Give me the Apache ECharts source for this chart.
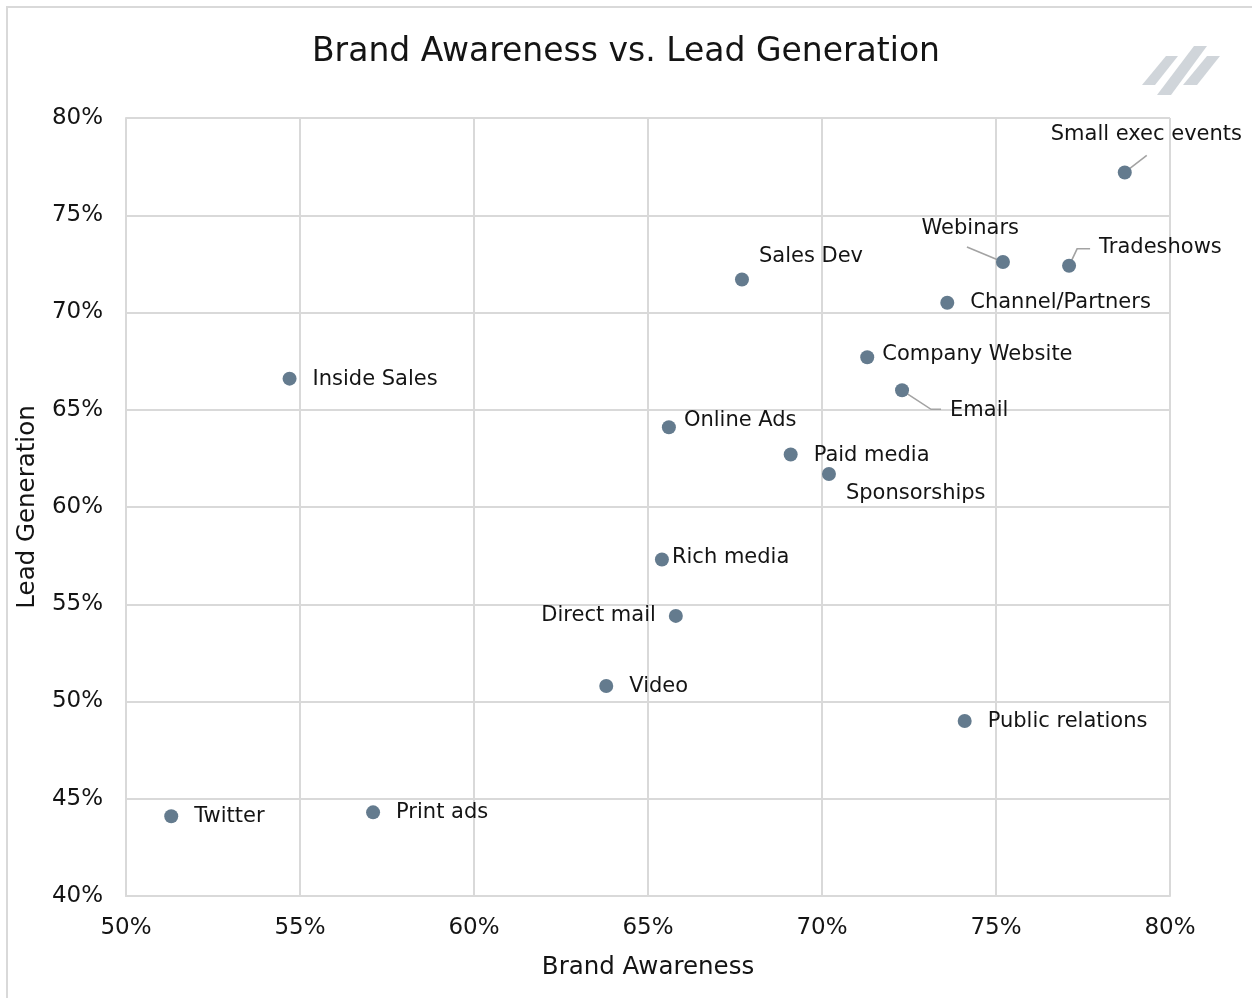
<!DOCTYPE html>
<html>
<head>
<meta charset="utf-8">
<script src="https://cdn.jsdelivr.net/npm/echarts@6/dist/echarts.min.js"></script>
<style>
html,body{margin:0;padding:0;background:#fff;}
#chart{width:1252px;height:998px;}
</style>
</head>
<body>
<div id="chart"></div>
<script>
// ---- data ----
const channels = ["Small exec events","Webinars","Tradeshows","Channel/Partners","Sales Dev","Company Website","Email","Inside Sales","Online Ads","Paid media","Sponsorships","Rich media","Direct mail","Video","Public relations","Twitter","Print ads"];
const brandAwareness = [78.7,75.2,77.1,73.6,67.7,71.3,72.3,54.7,65.6,69.1,70.2,65.4,65.8,63.8,74.1,51.3,57.1];
const leadGeneration = [77.2,72.6,72.4,70.5,71.7,67.7,66.0,66.6,64.1,62.7,61.7,57.3,54.4,50.8,49.0,44.1,44.3];
const xTicks = [50,55,60,65,70,75,80];
const yTicks = [40,45,50,55,60,65,70,75,80];

// ---- label styling (placement per label, not data) ----
const labelStyle = {
  "Small exec events": {offset:[-74,-38], align:"left", leader:[[0,0],[22,-17]]},
  "Webinars": {offset:[16,-33], align:"right", leader:[[-36,-15],[0,0]]},
  "Tradeshows": {offset:[30,-18], align:"left", leader:[[0,0],[8,-17],[21,-17]]},
  "Channel/Partners": {offset:[23,0], align:"left"},
  "Sales Dev": {offset:[17,-23], align:"left"},
  "Company Website": {offset:[15,-3], align:"left"},
  "Email": {offset:[48,20], align:"left", leader:[[0,0],[29,19],[39,19]]},
  "Inside Sales": {offset:[23,1], align:"left"},
  "Online Ads": {offset:[15,-7], align:"left"},
  "Paid media": {offset:[23,1], align:"left"},
  "Sponsorships": {offset:[17,20], align:"left"},
  "Rich media": {offset:[10,-2], align:"left"},
  "Direct mail": {offset:[-20,0], align:"right"},
  "Video": {offset:[23,1], align:"left"},
  "Public relations": {offset:[23,1], align:"left"},
  "Twitter": {offset:[23,0], align:"left"},
  "Print ads": {offset:[23,0], align:"left"}
};

const FONT = "'DejaVu Sans', Inter, sans-serif";
const TEXT = '#141414';
const seriesData = channels.map((n,i)=>{
  const s = labelStyle[n];
  return {
    name:n,
    value:[brandAwareness[i], leadGeneration[i]],
    label:{offset:s.offset, align:s.align}
  };
});

const baseGraphics = [
  {type:'rect', shape:{x:7,y:7,width:1270,height:1010}, style:{fill:'none', stroke:'#d9d9d9', lineWidth:2}, silent:true},
  {type:'polygon', shape:{points:[[1142,85],[1155,85],[1178,56],[1166,56]]}, style:{fill:'#d0d5da'}},
  {type:'polygon', shape:{points:[[1157,95],[1171,95],[1207,46],[1194,46]]}, style:{fill:'#d0d5da'}},
  {type:'polygon', shape:{points:[[1183,85],[1197,85],[1220,56],[1207,56]]}, style:{fill:'#d0d5da'}}
];

const chart = echarts.init(document.getElementById('chart'), null, {renderer:'canvas'});
chart.setOption({
  backgroundColor:'#ffffff',
  animation:false,
  title:{
    text:'Brand Awareness vs. Lead Generation',
    left:'center', top:31,
    textStyle:{fontFamily:FONT, fontSize:33, fontWeight:'normal', color:TEXT}
  },
  grid:{left:126, right:82, top:118, bottom:102, containLabel:false},
  xAxis:{
    type:'value', min:xTicks[0], max:xTicks[xTicks.length-1], interval:5,
    name:'Brand Awareness', nameLocation:'middle', nameGap:59,
    nameTextStyle:{fontFamily:FONT, fontSize:24.5, color:TEXT},
    axisLine:{show:true, lineStyle:{color:'#d9d9d9', width:2}},
    axisTick:{show:false},
    axisLabel:{formatter:'{value}%', margin:21, fontFamily:FONT, fontSize:23, color:TEXT},
    splitLine:{show:true, lineStyle:{color:'#d9d9d9', width:2}}
  },
  yAxis:{
    type:'value', min:yTicks[0], max:yTicks[yTicks.length-1], interval:5,
    name:'Lead Generation', nameLocation:'middle', nameGap:86, nameRotate:90,
    nameTextStyle:{fontFamily:FONT, fontSize:24.5, color:TEXT},
    axisLine:{show:true, lineStyle:{color:'#d9d9d9', width:2}},
    axisTick:{show:false},
    axisLabel:{formatter:'{value}%', margin:23, fontFamily:FONT, fontSize:23, color:TEXT},
    splitLine:{show:true, lineStyle:{color:'#d9d9d9', width:2}}
  },
  series:[{
    type:'scatter',
    symbolSize:14,
    itemStyle:{color:'#647b8e', opacity:1},
    data:seriesData,
    z:3,
    label:{
      show:true, position:'inside', verticalAlign:'middle',
      formatter:'{b}', fontFamily:FONT, fontSize:21, color:TEXT
    },
    emphasis:{disabled:true}
  }],
  graphic:baseGraphics
});

// leader lines, anchored at each point's pixel position from the axes
const leaders = [];
channels.forEach((n,i)=>{
  const s = labelStyle[n];
  if (!s.leader) return;
  const p = chart.convertToPixel({gridIndex:0}, [brandAwareness[i], leadGeneration[i]]);
  leaders.push({
    type:'polyline', z:2, silent:true,
    shape:{points:s.leader.map(d=>[p[0]+d[0], p[1]+d[1]])},
    style:{stroke:'#a3a3a3', lineWidth:1.6, fill:null}
  });
});
chart.setOption({graphic:baseGraphics.concat(leaders)});
</script>
</body>
</html>
